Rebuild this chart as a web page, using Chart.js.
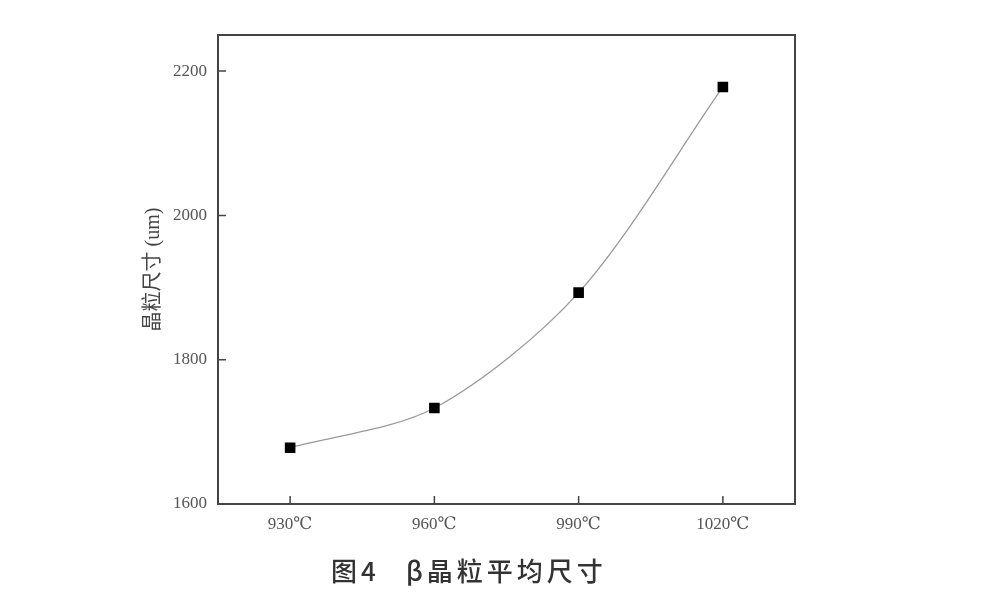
<!DOCTYPE html>
<html>
<head>
<meta charset="utf-8">
<script src="https://cdn.jsdelivr.net/npm/chart.js@4"></script>
<style>
  html, body { margin: 0; padding: 0; background: #fff; }
  #wrap { position: relative; width: 1000px; height: 600px; }
  .caption {
    position: absolute; top: 550px; white-space: nowrap;
    font-family: 'Noto Sans CJK SC', sans-serif; font-size: 26px; color: #333;
    font-weight: 500; letter-spacing: 4px; line-height: 40px;
  }
</style>
</head>
<body>
<div id="wrap">
  <canvas id="chart" width="1000" height="600"></canvas>
  <span class="caption" style="left:331px">图4</span>
  <span class="caption" style="left:406px">β晶粒平均尺寸</span>
</div>
<script>
// Données
const temperatures = ['930℃', '960℃', '990℃', '1020℃'];
const tailleGrain = [1678, 1733, 1893, 2178];
const yTicks = [1600, 1800, 2000, 2200];

const serif = "'Liberation Serif', 'DejaVu Serif', 'Noto Sans CJK SC', serif";

// Cadre et petites graduations vers l'intérieur
const cadrePlugin = {
    id: 'cadre',
    afterDraw(chart) {
        const { ctx, chartArea: a, scales } = chart;
        ctx.save();
        ctx.strokeStyle = '#444';
        ctx.lineWidth = 2;
        ctx.strokeRect(a.left, a.top, a.right - a.left, a.bottom - a.top);
        ctx.lineWidth = 1.5;
        ctx.beginPath();
        scales.y.ticks.forEach(t => {
            const y = scales.y.getPixelForValue(t.value);
            ctx.moveTo(a.left, y);
            ctx.lineTo(a.left + 8, y);
        });
        scales.x.ticks.forEach((t, i) => {
            const x = scales.x.getPixelForTick(i);
            ctx.moveTo(x, a.bottom);
            ctx.lineTo(x, a.bottom - 8);
        });
        ctx.stroke();
        ctx.restore();
    }
};

new Chart(document.getElementById('chart'), {
    type: 'line',
    data: {
        labels: temperatures,
        datasets: [{
            data: tailleGrain,
            borderColor: '#9a9a9a',
            borderWidth: 1.3,
            tension: 0.3,
            pointStyle: 'rect',
            pointRadius: 7.5,
            pointBackgroundColor: '#000',
            pointBorderColor: '#000',
            pointBorderWidth: 0
        }]
    },
    options: {
        responsive: false,
        animation: false,
        layout: { padding: { left: 140, right: 205, top: 35, bottom: 0 } },
        plugins: { legend: { display: false }, tooltip: { enabled: false } },
        scales: {
            x: {
                offset: true,
                grid: { display: false, drawTicks: false },
                border: { display: false },
                ticks: { color: '#555', padding: 10, font: { family: serif, size: 17 } },
                afterFit(scale) { scale.height = 96; }
            },
            y: {
                min: 1600,
                max: 2250,
                grid: { display: false, drawTicks: false },
                border: { display: false },
                ticks: {
                    color: '#555', padding: 11, font: { family: serif, size: 17 },
                    callback: v => String(v)
                },
                afterBuildTicks(scale) {
                    scale.ticks = yTicks.map(v => ({ value: v }));
                },
                title: {
                    display: true,
                    text: '晶粒尺寸 (um)',
                    color: '#444',
                    font: { family: serif, size: 20 },
                    padding: { top: 2, bottom: 0 }
                },
                afterFit(scale) { scale.width = 78; }
            }
        }
    },
    plugins: [cadrePlugin]
});
</script>
</body>
</html>
